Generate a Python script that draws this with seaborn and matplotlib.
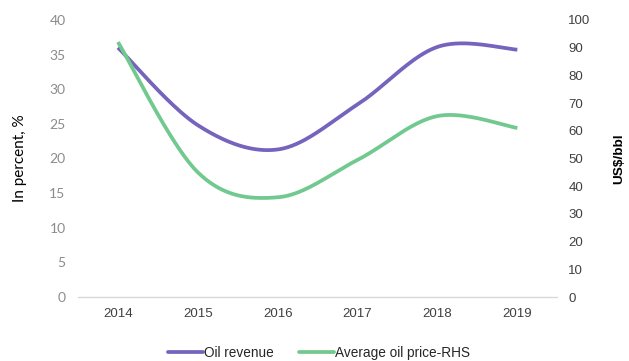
import numpy as np
import pandas as pd
import matplotlib
matplotlib.use("Agg")
import matplotlib.pyplot as plt
import seaborn as sns
from matplotlib.lines import Line2D

years = ["2014", "2015", "2016", "2017", "2018", "2019"]
oil_revenue = [36.0, 24.8, 21.3, 27.8, 36.1, 35.7]
oil_price = [92.0, 45.0, 36.0, 49.5, 65.3, 61.0]

left_ticks = [0, 5, 10, 15, 20, 25, 30, 35, 40]
right_ticks = [0, 10, 20, 30, 40, 50, 60, 70, 80, 90, 100]

PURPLE = "#7563BD"
GREEN = "#72C98F"


def smooth(xs, ys, n=40):
    """Cubic Bezier smoothing through every point (Catmull-Rom style)."""
    px = np.asarray(xs, float)
    py = np.asarray(ys, float)
    px = np.concatenate([[px[0]], px, [px[-1]]])
    py = np.concatenate([[py[0]], py, [py[-1]]])
    out_x, out_y = [], []
    for i in range(1, len(px) - 2):
        p0 = np.array([px[i - 1], py[i - 1]])
        p1 = np.array([px[i], py[i]])
        p2 = np.array([px[i + 1], py[i + 1]])
        p3 = np.array([px[i + 2], py[i + 2]])
        c1 = p1 + (p2 - p0) / 6.0
        c2 = p2 - (p3 - p1) / 6.0
        t = np.linspace(0, 1, n)[:, None]
        pts = ((1 - t) ** 3) * p1 + 3 * ((1 - t) ** 2) * t * c1 + 3 * (1 - t) * t ** 2 * c2 + t ** 3 * p2
        if i > 1:
            pts = pts[1:]
        out_x.extend(pts[:, 0])
        out_y.extend(pts[:, 1])
    return np.array(out_x), np.array(out_y)


sns.set_theme(style="white")
plt.rcParams["font.family"] = ["Liberation Sans", "DejaVu Sans"]

fig = plt.figure(figsize=(6.29, 3.61), dpi=100)
ax = fig.add_axes([0.124, 0.177, 0.762, 0.768])
ax2 = ax.twinx()

xpos = np.arange(len(years))
rx, ry = smooth(xpos, oil_revenue)
gx, gy = smooth(xpos, oil_price)

sns.lineplot(x=rx, y=ry, ax=ax, color=PURPLE, linewidth=2.7, sort=False,
             estimator=None, solid_capstyle="butt")
sns.lineplot(x=gx, y=gy, ax=ax2, color=GREEN, linewidth=2.7, sort=False,
             estimator=None, solid_capstyle="butt")

ax.set_xlim(-0.5, len(years) - 0.5)
ax.set_ylim(0, 40)
ax2.set_ylim(0, 100)
ax.set_xticks(xpos)
ax.set_xticklabels(years, fontsize=9.5, color="#404040")
ax.set_yticks(left_ticks)
ax.set_yticklabels([str(v) for v in left_ticks], fontsize=10, color="#8C8C8C",
                   family=["Lato", "DejaVu Sans"])
ax2.set_yticks(right_ticks)
ax2.set_yticklabels([str(v) for v in right_ticks], fontsize=9.5, color="#404040")

ax.tick_params(axis="both", length=0)
ax.tick_params(axis="y", pad=9)
ax.tick_params(axis="x", pad=8)
ax2.tick_params(axis="y", length=0, pad=8)

for a in (ax, ax2):
    for s in ("top", "left", "right", "bottom"):
        a.spines[s].set_visible(False)
    a.grid(False)
ax.spines["bottom"].set_visible(True)
ax.spines["bottom"].set_color("#D9D9D9")
ax.spines["bottom"].set_linewidth(1.0)

ax.set_ylabel("In percent, %", fontsize=11, color="#000000",
              family=["Lato", "DejaVu Sans"], labelpad=16)
ax2.set_ylabel("US$/bbl", fontsize=9.7, color="#000000", fontweight="bold",
               labelpad=16)

handles = [Line2D([], [], color=PURPLE, linewidth=2.7),
           Line2D([], [], color=GREEN, linewidth=2.7)]
fig.legend(handles, ["Oil revenue", "Average oil price-RHS"], loc="lower center",
           bbox_to_anchor=(0.507, -0.03), ncol=2, frameon=False, fontsize=9.8,
           handlelength=2.6, handletextpad=0.1, columnspacing=1.8)

fig.savefig("out.png", dpi=100)
